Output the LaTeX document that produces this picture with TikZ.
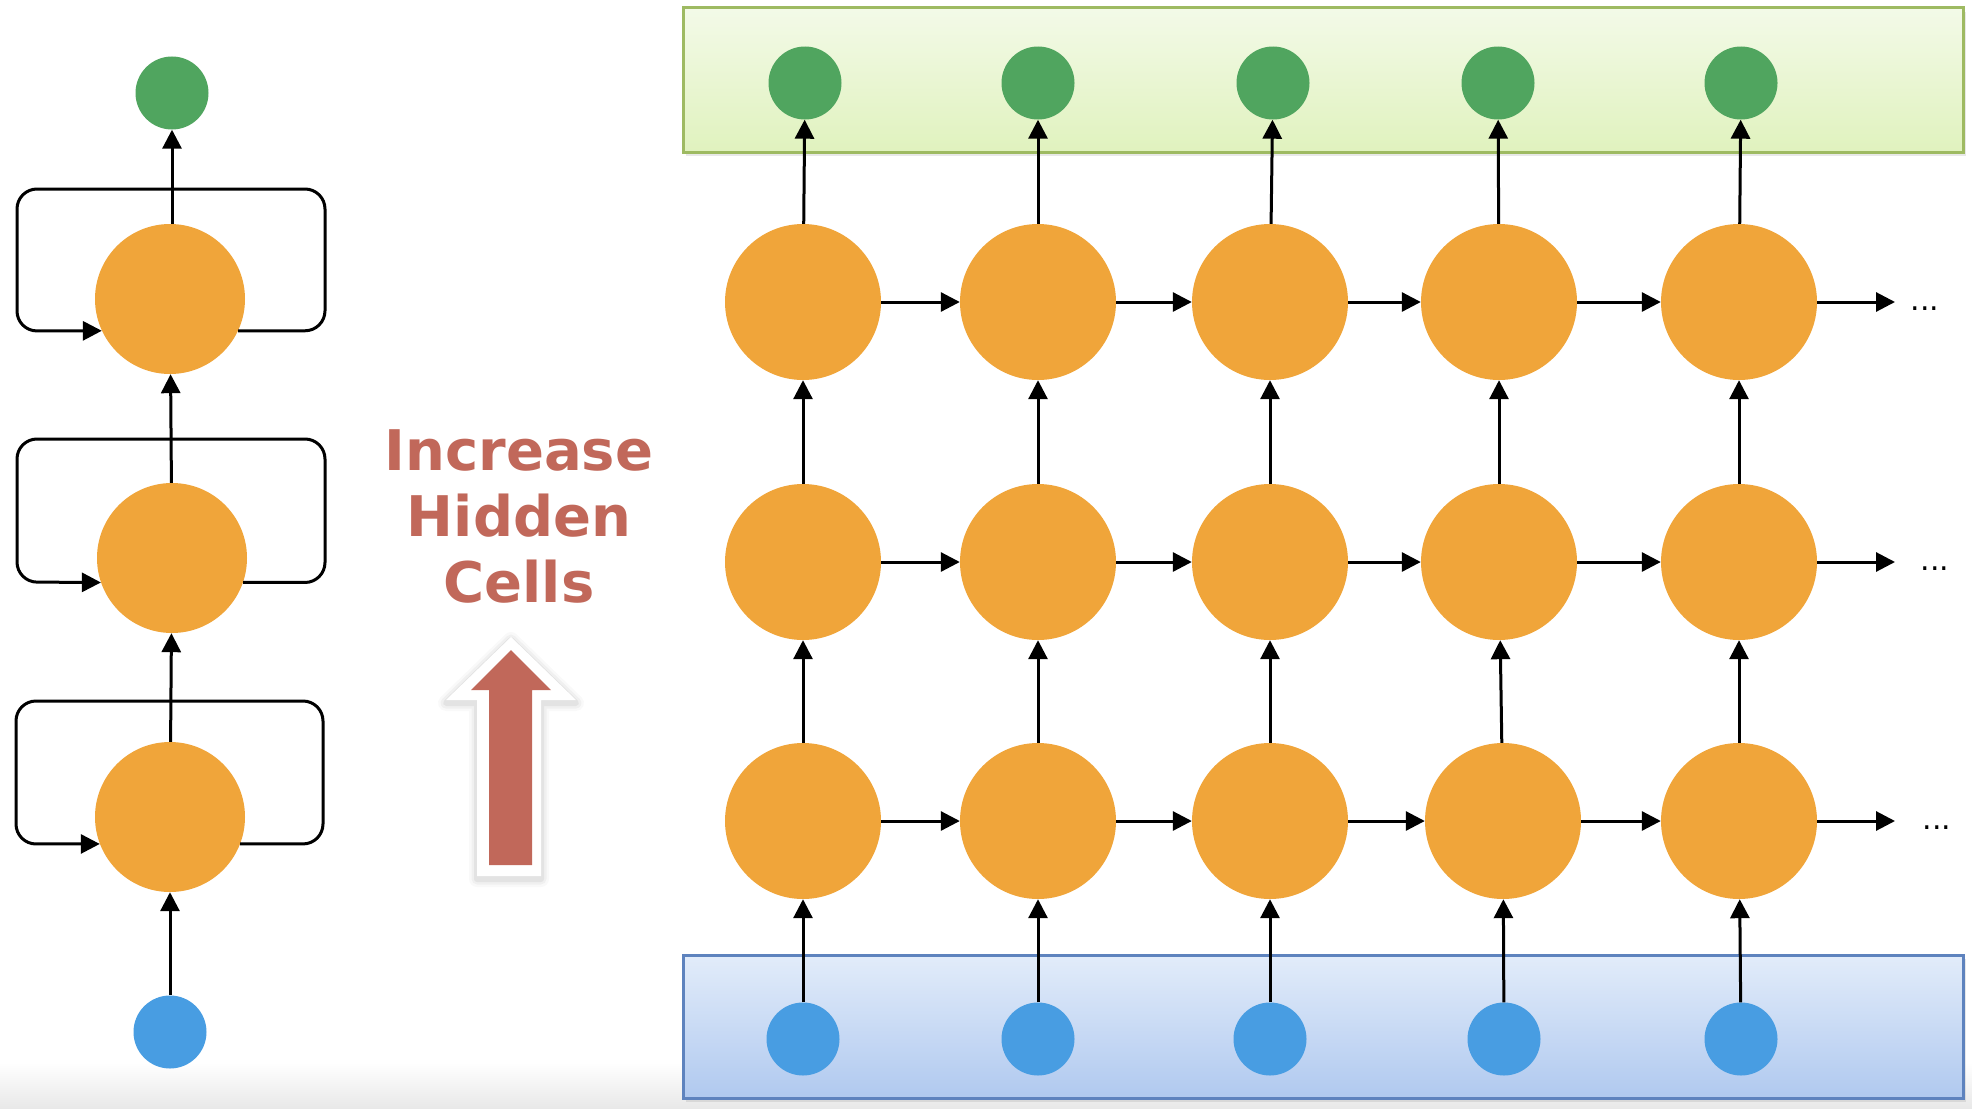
\documentclass[tikz,border=0pt]{standalone}
\usepackage{fontspec}
\newfontfamily\labelfont{DejaVu Sans}
\usetikzlibrary{arrows.meta,calc,shadows}
\definecolor{cellorange}{RGB}{240,165,58}
\definecolor{outgreen}{RGB}{80,165,95}
\definecolor{inblue}{RGB}{72,157,226}
\definecolor{txtred}{RGB}{193,104,90}
\definecolor{gboxtop}{RGB}{243,250,232}
\definecolor{gboxbot}{RGB}{224,242,190}
\definecolor{gboxline}{RGB}{158,186,98}
\definecolor{bboxtop}{RGB}{226,236,250}
\definecolor{bboxbot}{RGB}{176,201,239}
\definecolor{bboxline}{RGB}{94,131,190}
\tikzset{
  cell/.style={circle, fill=cellorange, minimum size=156pt, inner sep=0pt},
  lcell/.style={cell, minimum size=150pt},
  outnode/.style={circle, fill=outgreen, minimum size=73pt, inner sep=0pt},
  innode/.style={circle, fill=inblue, minimum size=73pt, inner sep=0pt},
  conn/.style={line width=3pt, -{Triangle[length=19pt,width=19pt]}},
  loopline/.style={conn, rounded corners=20pt},
  dots/.style={font=\labelfont\fontsize{30}{30}\selectfont, anchor=base, inner sep=0pt},
  boxshadow/.style={drop shadow={opacity=0.18, shadow xshift=3pt, shadow yshift=-4pt}},
  glow/.style={draw=black, line join=round, opacity=#1}
}
\begin{document}
\begin{tikzpicture}[x=1pt,y=-1pt]
\useasboundingbox (0,0) rectangle (1972,1108);
\fill[white] (0,0) rectangle (1972,1108);
\shade[top color=white, bottom color=black!9] (0,1062) rectangle (1972,1108);

% ---- left: folded RNN ----
\node[outnode] (lo) at (172,93) {};
\node[lcell] (l1) at (170,299) {};
\node[lcell] (l2) at (172,558) {};
\node[lcell] (l3) at (170,817) {};
\node[innode] (li) at (170,1032) {};

\draw[conn] (li) -- (l3);
\draw[conn] (l3) -- (l2);
\draw[conn] (l2) -- (l1);
\draw[conn] (l1.north -| lo) -- (lo);

\draw[loopline] (l1.-25) -| (325,189) -| (17,331) -- (l1.205);
\draw[loopline] (l2.-19) -| (325,439) -| (17,582) -- (l2.199);
\draw[loopline] (l3.-21) -| (323,701) -| (16,844) -- (l3.201);

% ---- middle: label and big arrow ----
\node[text=txtred, font=\labelfont\bfseries\fontsize{56}{66}\selectfont, align=center, inner sep=0pt] (title) at (519,516) {Increase\\Hidden\\Cells};
\begin{scope}[yshift=-3pt]
\foreach \w/\o in {16/0.025,11/0.035,6/0.05}{
  \draw[glow=\o, line width=\w pt]
    (511,637) -- (576,700) -- (541,700) -- (541,876) -- (477,876) -- (477,700) -- (446,700) -- cycle;
}
\end{scope}
\fill[white]
  (511,637) -- (576,700) -- (541,700) -- (541,876) -- (477,876) -- (477,700) -- (446,700) -- cycle;
\fill[txtred]
  (511,650) -- (551,690) -- (532,690) -- (532,865) -- (489,865) -- (489,690) -- (471,690) -- cycle;

% ---- right: boxes ----
\path[draw=gboxline, line width=3pt, top color=gboxtop, bottom color=gboxbot, boxshadow] (683,8) rectangle (1963,152);
\path[draw=bboxline, line width=3pt, top color=bboxtop, bottom color=bboxbot, boxshadow] (683,955) rectangle (1963,1098);

% outputs
\node[outnode] (g1) at (805,83) {};
\node[outnode] (g2) at (1038,83) {};
\node[outnode] (g3) at (1273,83) {};
\node[outnode] (g4) at (1498,83) {};
\node[outnode] (g5) at (1741,83) {};
% hidden cells
\node[cell] (a1) at (803,302) {};
\node[cell] (a2) at (1038,302) {};
\node[cell] (a3) at (1270,302) {};
\node[cell] (a4) at (1499,302) {};
\node[cell] (a5) at (1739,302) {};
\node[cell] (m1) at (803,562) {};
\node[cell] (m2) at (1038,562) {};
\node[cell] (m3) at (1270,562) {};
\node[cell] (m4) at (1499,562) {};
\node[cell] (m5) at (1739,562) {};
\node[cell] (c1) at (803,821) {};
\node[cell] (c2) at (1038,821) {};
\node[cell] (c3) at (1270,821) {};
\node[cell] (c4) at (1503,821) {};
\node[cell] (c5) at (1739,821) {};
% inputs
\node[innode] (b1) at (803,1039) {};
\node[innode] (b2) at (1038,1039) {};
\node[innode] (b3) at (1270,1039) {};
\node[innode] (b4) at (1504,1039) {};
\node[innode] (b5) at (1741,1039) {};

\foreach \i in {1,...,5} {
  \draw[conn] (b\i) -- (c\i);
  \draw[conn] (c\i) -- (m\i);
  \draw[conn] (m\i) -- (a\i);
  \draw[conn] (a\i) -- (g\i);
}
\foreach \i/\j in {1/2,2/3,3/4,4/5} {
  \draw[conn] (a\i) -- (a\j);
  \draw[conn] (m\i) -- (m\j);
  \draw[conn] (c\i) -- (c\j);
}
\coordinate (ea) at (1895,302);
\coordinate (em) at (1895,562);
\coordinate (ec) at (1895,821);
\draw[conn] (a5) -- (ea);
\draw[conn] (m5) -- (em);
\draw[conn] (c5) -- (ec);
\node[dots] (da) at (1925,310) {...};
\node[dots] (dm) at (1935,570) {...};
\node[dots] (dc) at (1937,829) {...};
\end{tikzpicture}
\end{document}
